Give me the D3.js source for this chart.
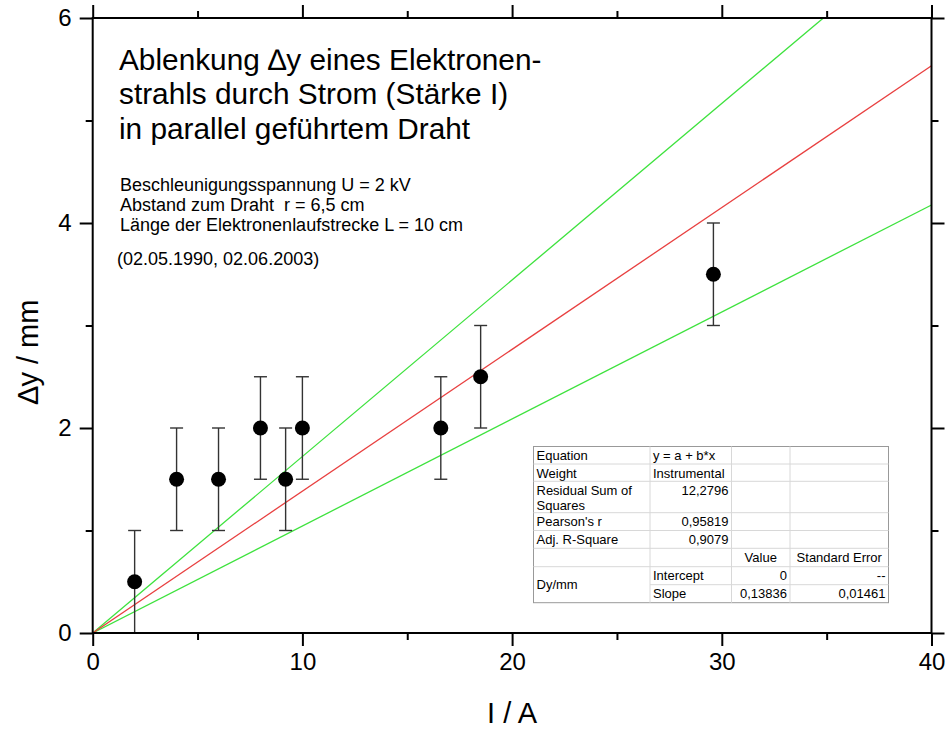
<!DOCTYPE html>
<html><head><meta charset="utf-8">
<script src="https://cdn.jsdelivr.net/npm/d3@7"></script>
<style>
body{margin:0;background:#fff;}
svg{display:block;font-family:Arial,"Liberation Sans",sans-serif;}
</style></head>
<body><svg id="c" width="945" height="733"></svg>
<script>
// ---- data ----
const currentA = [2, 4, 6, 8, 9.2, 10, 16.6, 18.5, 29.6];
const deflectionMm = [0.5, 1.5, 1.5, 2, 1.5, 2, 2, 2.5, 3.5];
const errorMm = [0.5, 0.5, 0.5, 0.5, 0.5, 0.5, 0.5, 0.5, 0.5];
const fitSlopes = [0.13836];
const boundSlopes = [0.1722, 0.1044];
const xTicks = [0, 10, 20, 30, 40];
const yTicks = [0, 2, 4, 6];
const titleLines = ["Ablenkung \u2206y eines Elektronen-", "strahls durch Strom (Stärke I)", "in parallel geführtem Draht"];
const infoLines = ["Beschleunigungsspannung U = 2 kV", "Abstand zum Draht\u00a0 r = 6,5 cm", "Länge der Elektronenlaufstrecke L = 10 cm"];
const dateLine = "(02.05.1990, 02.06.2003)";
const tableRows = [
  ["Equation", "y = a + b*x", "", ""],
  ["Weight", "Instrumental", "", ""],
  ["Residual Sum of\nSquares", "12,2796", "", ""],
  ["Pearson's r", "0,95819", "", ""],
  ["Adj. R-Square", "0,9079", "", ""],
  ["", "", "Value", "Standard Error"],
  ["Dy/mm", "Intercept", "0", "--"],
  ["", "Slope", "0,13836", "0,01461"]
];

const svg = d3.select("#c");
const L = 92.7, R = 931.5, T = 18, B = 633;
const x = d3.scaleLinear().domain([0, 40]).range([L, R]);
const y = d3.scaleLinear().domain([0, 6]).range([B, T]);

svg.append("defs").append("clipPath").attr("id", "clip")
  .append("rect").attr("x", L).attr("y", T).attr("width", R - L).attr("height", B - T);

// fit lines
const lineG = svg.append("g").attr("clip-path", "url(#clip)");
boundSlopes.forEach(s => {
  lineG.append("line").attr("x1", x(0)).attr("y1", y(0)).attr("x2", x(40)).attr("y2", y(40 * s))
    .attr("stroke", "#3ee23e").attr("stroke-width", 1.3);
});
fitSlopes.forEach(s => {
  lineG.append("line").attr("x1", x(0)).attr("y1", y(0)).attr("x2", x(40)).attr("y2", y(40 * s))
    .attr("stroke", "#e84040").attr("stroke-width", 1.3);
});

// error bars
const eg = svg.append("g").attr("stroke", "#333").attr("stroke-width", 1.4);
currentA.forEach((cx, i) => {
  const lo = deflectionMm[i] - errorMm[i], hi = deflectionMm[i] + errorMm[i];
  eg.append("line").attr("x1", x(cx)).attr("x2", x(cx)).attr("y1", y(lo)).attr("y2", y(hi));
  eg.append("line").attr("x1", x(cx) - 6.5).attr("x2", x(cx) + 6.5).attr("y1", y(hi)).attr("y2", y(hi));
  if (lo > 0) eg.append("line").attr("x1", x(cx) - 6.5).attr("x2", x(cx) + 6.5).attr("y1", y(lo)).attr("y2", y(lo));
});
svg.append("g").selectAll("circle").data(currentA).join("circle")
  .attr("cx", d => x(d)).attr("cy", (d, i) => y(deflectionMm[i])).attr("r", 7.5).attr("fill", "#000");

// axes
function styleAxis(g) {
  g.select(".domain").remove();
  g.selectAll(".tick line").attr("stroke", "#000").attr("stroke-width", 2);
  g.selectAll(".tick text").attr("font-size", 24).attr("fill", "#000").attr("font-family", "Arial,'Liberation Sans',sans-serif");
}
const xMinor = d3.range(5, 40, 10);
const yMinor = d3.range(1, 6, 2);
svg.append("g").attr("transform", `translate(0,${B})`)
  .call(d3.axisBottom(x).tickValues(xTicks).tickSize(13).tickPadding(7).tickFormat(d3.format("d"))).call(styleAxis);
svg.append("g").attr("transform", `translate(0,${B})`)
  .call(d3.axisBottom(x).tickValues(xMinor).tickSize(7).tickFormat("")).call(styleAxis);
svg.append("g").attr("transform", `translate(0,${T})`)
  .call(d3.axisTop(x).tickValues(xTicks).tickSize(13).tickFormat("")).call(styleAxis);
svg.append("g").attr("transform", `translate(0,${T})`)
  .call(d3.axisTop(x).tickValues(xMinor).tickSize(7).tickFormat("")).call(styleAxis);
svg.append("g").attr("transform", `translate(${L},0)`)
  .call(d3.axisLeft(y).tickValues(yTicks).tickSize(13).tickPadding(8).tickFormat(d3.format("d"))).call(styleAxis);
svg.append("g").attr("transform", `translate(${L},0)`)
  .call(d3.axisLeft(y).tickValues(yMinor).tickSize(7).tickFormat("")).call(styleAxis);
svg.append("g").attr("transform", `translate(${R},0)`)
  .call(d3.axisRight(y).tickValues(yTicks).tickSize(13).tickFormat("")).call(styleAxis);
svg.append("g").attr("transform", `translate(${R},0)`)
  .call(d3.axisRight(y).tickValues(yMinor).tickSize(7).tickFormat("")).call(styleAxis);
svg.append("rect").attr("x", L).attr("y", T).attr("width", R - L).attr("height", B - T)
  .attr("fill", "none").attr("stroke", "#000").attr("stroke-width", 2);

// axis titles
svg.append("text").attr("x", x(20)).attr("y", 723).attr("text-anchor", "middle")
  .attr("font-size", 29).text("I / A");
svg.append("text").attr("transform", "translate(38,352) rotate(-90)").attr("text-anchor", "middle")
  .attr("font-size", 29).text("\u2206y / mm");

// title
svg.append("g").selectAll("text").data(titleLines).join("text")
  .attr("x", 119).attr("y", (d, i) => 69.5 + i * 34.5).attr("font-size", 29.8).text(d => d);
svg.append("g").selectAll("text").data(infoLines).join("text")
  .attr("x", 120).attr("y", (d, i) => 190.5 + i * 20).attr("font-size", 18).text(d => d);
svg.append("text").attr("x", 117).attr("y", 265).attr("font-size", 18).text(dateLine);

// table
const colX = [533.5, 650, 731.5, 790, 888.5];
const rowY = [446.5, 464, 481.3, 512.7, 530.5, 548.3, 566.7, 584.7, 602.7];
const tg = svg.append("g").attr("font-size", 13).attr("fill", "#000");
tg.append("rect").attr("x", colX[0]).attr("y", rowY[0]).attr("width", colX[4] - colX[0]).attr("height", rowY[8] - rowY[0])
  .attr("fill", "#fff").attr("stroke", "#999").attr("stroke-width", 1);
// horizontal grid
for (let r = 1; r < 8; r++) {
  const x0 = (r === 7) ? colX[1] : colX[0];
  tg.append("line").attr("x1", x0).attr("x2", colX[4]).attr("y1", rowY[r]).attr("y2", rowY[r])
    .attr("stroke", "#d8d8d8").attr("stroke-width", 1);
}
for (let c = 1; c < 4; c++) {
  tg.append("line").attr("x1", colX[c]).attr("x2", colX[c]).attr("y1", rowY[0]).attr("y2", rowY[8])
    .attr("stroke", "#d8d8d8").attr("stroke-width", 1);
}
tableRows.forEach((row, r) => {
  row.forEach((cell, c) => {
    if (!cell) return;
    const numeric = /^[0-9,\-]+$/.test(cell);
    const isHeader = (r === 5);
    let anchor = "start", tx = colX[c] + 3;
    if (numeric) { anchor = "end"; tx = colX[c + 1] - 3; }
    if (isHeader) { anchor = "middle"; tx = (colX[c] + colX[c + 1]) / 2; }
    let ty = rowY[r] + 13.5;
    if (r === 6 && c === 0) ty = rowY[7] + 4.5;
    const lines = cell.split("\n");
    lines.forEach((ln, k) => {
      tg.append("text").attr("x", tx).attr("y", ty + k * 15).attr("text-anchor", anchor).text(ln);
    });
  });
});
</script></body></html>
